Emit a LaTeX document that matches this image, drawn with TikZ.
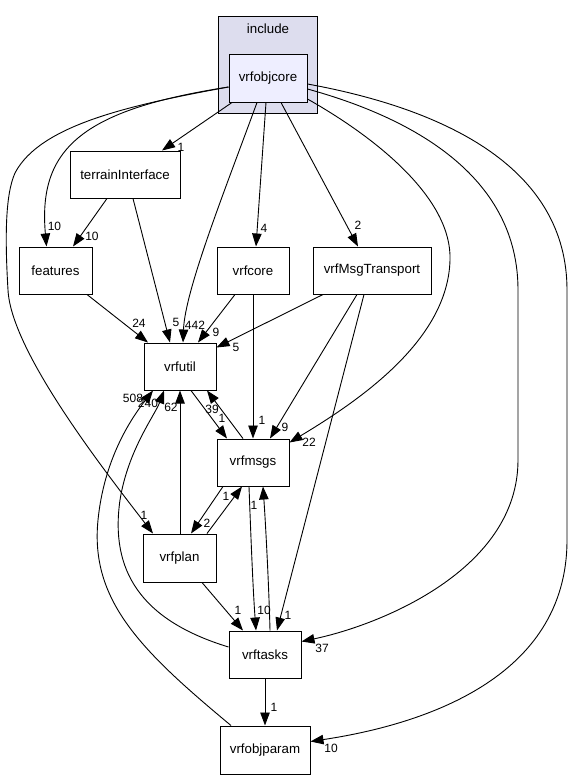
\documentclass[tikz,border=0pt]{standalone}
\usepackage{fontspec}
\setmainfont{Liberation Sans}
\usetikzlibrary{arrows.meta}
\definecolor{clusterfill}{HTML}{DDDDEE}
\definecolor{corefill}{HTML}{EEEEFF}
\tikzset{
  dirbox/.style={draw=black, line width=1pt, fill=white, inner sep=0pt, minimum height=47pt, minimum width=72pt, font=\fontsize{13.3}{15}\selectfont},
  dep/.style={draw=black, line width=0.9pt, -{Triangle[length=13pt,width=9.5pt]}},
  lbl/.style={inner sep=0pt, font=\fontsize{12}{14}\selectfont},
}
\begin{document}
\begin{tikzpicture}[x=1pt,y=-1pt]
\useasboundingbox (0,0) rectangle (575,780);
% cluster
\node[draw=black, line width=1pt, fill=clusterfill, minimum width=99pt, minimum height=97pt, inner sep=0pt] (cluster) at (267.5,64.5) {};
\node[lbl, font=\fontsize{13.3}{15}\selectfont] (clusterlabel) at (268,29) {include};
% nodes
\node[dirbox, fill=corefill, minimum width=78pt, minimum height=48pt] (vrfobjcore) at (268,78) {vrfobjcore};
\node[dirbox, minimum width=110pt] (terrainInterface) at (125,174.5) {terrainInterface};
\node[dirbox, minimum width=73pt] (features) at (55.5,270.5) {features};
\node[dirbox] (vrfcore) at (253,270.5) {vrfcore};
\node[dirbox, minimum width=118pt] (vrfMsgTransport) at (372,270.5) {vrfMsgTransport};
\node[dirbox] (vrfutil) at (180,366.5) {vrfutil};
\node[dirbox] (vrfmsgs) at (253,462.5) {vrfmsgs};
\node[dirbox, minimum width=73pt, minimum height=48pt] (vrfplan) at (179.5,558) {vrfplan};
\node[dirbox] (vrftasks) at (265,654.5) {vrftasks};
\node[dirbox, minimum width=90pt, minimum height=48pt] (vrfobjparam) at (265,750) {vrfobjparam};

% edges from vrfobjcore
\draw[dep] ([xshift=-36pt]vrfobjcore.south) -- ([xshift=37pt]terrainInterface.north);
\draw[dep] ([yshift=-9pt]vrfobjcore.west) .. controls (80,110) and (38,150) .. ([xshift=-9pt]features.north);
\draw[dep] ([yshift=-9pt]vrfobjcore.west) .. controls (130,105) and (40,125) .. (15,173)
  .. controls (5,195) and (5,240) .. (8,290)
  .. controls (11,350) and (100,465) .. ([xshift=-26.5pt]vrfplan.north);
\draw[dep] ([xshift=-11pt]vrfobjcore.south) .. controls (225,190) and (185,290) .. ([xshift=3pt]vrfutil.north);
\draw[dep] ([xshift=-2pt]vrfobjcore.south) -- ([xshift=3pt]vrfcore.north);
\draw[dep] ([xshift=13pt]vrfobjcore.south) -- ([xshift=-14pt]vrfMsgTransport.north);
\draw[dep] ([yshift=-21pt]vrfobjcore.east) .. controls (380,140) and (452,200) .. (450,260)
  .. controls (448,340) and (360,400) .. ([yshift=-4pt]vrfmsgs.north east);
\draw[dep] ([yshift=-11pt]vrfobjcore.east) .. controls (420,120) and (518,180) .. (518,290)
  -- (518,460) .. controls (518,570) and (380,625) .. ([yshift=-11pt]vrftasks.north east);
\draw[dep] ([yshift=-6pt]vrfobjcore.east) .. controls (450,110) and (567,170) .. (567,290)
  -- (567,540) .. controls (567,680) and (420,725) .. ([yshift=-16pt]vrfobjparam.north east);

% other edges
\draw[dep] ([xshift=-18pt]terrainInterface.south) -- ([xshift=17.5pt]features.north);
\draw[dep] ([xshift=8pt]terrainInterface.south) -- ([xshift=-10pt]vrfutil.north);
\draw[dep] ([xshift=31.5pt]features.south) -- ([xshift=-32pt]vrfutil.north);
\draw[dep] ([xshift=-18pt]vrfcore.south) -- ([xshift=18pt]vrfutil.north);
\draw[dep] (vrfcore.south) -- (vrfmsgs.north);
\draw[dep] ([xshift=-49pt]vrfMsgTransport.south) -- ([yshift=-5pt]vrfutil.north east);
\draw[dep] ([xshift=-15pt]vrfMsgTransport.south) -- ([xshift=17pt]vrfmsgs.north);
\draw[dep] ([xshift=-8pt]vrfMsgTransport.south) -- ([xshift=12pt]vrftasks.north);
\draw[dep] ([xshift=11pt]vrfutil.south) -- ([xshift=-26pt]vrfmsgs.north);
\draw[dep] ([xshift=-10pt]vrfmsgs.north) -- ([xshift=27pt]vrfutil.south);
\draw[dep] ([xshift=-30pt]vrfmsgs.south) -- ([xshift=11.5pt]vrfplan.north);
\draw[dep] ([xshift=27.5pt]vrfplan.north) -- ([xshift=-11pt]vrfmsgs.south);
\draw[dep] ([xshift=0.5pt]vrfplan.north) -- (vrfutil.south);
\draw[dep] ([xshift=22.5pt]vrfplan.south) -- ([xshift=-22pt]vrftasks.north);
\draw[dep] ([xshift=-4pt]vrfmsgs.south) .. controls (251,540) and (253,590) .. ([xshift=-9pt]vrftasks.north);
\draw[dep] ([xshift=5pt]vrftasks.north) .. controls (269,590) and (266,530) .. ([xshift=10pt]vrfmsgs.south);
\draw[dep] ([yshift=7.5pt]vrftasks.west) .. controls (140,620) and (110,570) .. (120,500)
  .. controls (128,450) and (155,415) .. ([xshift=-16pt]vrfutil.south);
\draw[dep] ([xshift=-34pt]vrfobjparam.north) .. controls (140,650) and (90,600) .. (98,520)
  .. controls (104,460) and (130,420) .. ([xshift=-27pt]vrfutil.south);
\draw[dep] (vrftasks.south) -- (vrfobjparam.north);

% labels
\node[lbl] (l1) at (181,147) {1};
\node[lbl] (l2) at (54.5,226) {10};
\node[lbl] (l3) at (144,515) {1};
\node[lbl] (l4) at (195,325) {442};
\node[lbl] (l5) at (264,228) {4};
\node[lbl] (l6) at (358,225) {2};
\node[lbl] (l7) at (309,442) {22};
\node[lbl] (l8) at (322,648) {37};
\node[lbl] (l9) at (331,748) {10};
\node[lbl] (l10) at (92,236) {10};
\node[lbl] (l11) at (176,322) {5};
\node[lbl] (l12) at (139,323) {24};
\node[lbl] (l13) at (216,332) {9};
\node[lbl] (l14) at (262,420) {1};
\node[lbl] (l15) at (236,347) {5};
\node[lbl] (l16) at (285,427) {9};
\node[lbl] (l17) at (288,615) {1};
\node[lbl] (l18) at (222,418) {1};
\node[lbl] (l19) at (212,409) {39};
\node[lbl] (l20) at (207,523) {2};
\node[lbl] (l21) at (226,496) {1};
\node[lbl] (l22) at (171,407) {62};
\node[lbl] (l23) at (238,610) {1};
\node[lbl] (l24) at (264,610) {10};
\node[lbl] (l25) at (254,505) {1};
\node[lbl] (l26) at (148,403) {240};
\node[lbl] (l27) at (133,398) {508};
\node[lbl] (l28) at (274,707) {1};
\end{tikzpicture}
\end{document}
